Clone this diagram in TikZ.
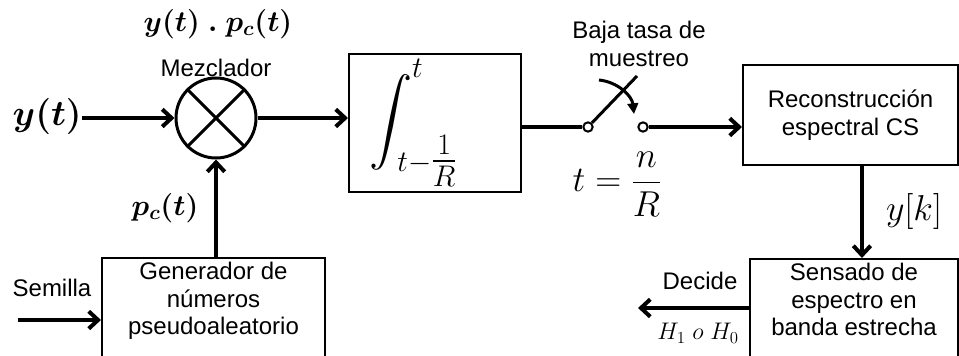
\RequirePackage{fix-cm}
\documentclass[tikz,border=0pt]{standalone}
\usepackage{fontspec}
\setmainfont{Liberation Sans}
\usepackage{amsmath,bm,graphicx}
\usetikzlibrary{arrows.meta,positioning}

\begin{document}
\begin{tikzpicture}[
  x=0.75pt,y=-0.75pt,
  box/.style={draw,line width=1.5pt,align=center,
    font=\fontsize{18}{20.5}\selectfont},
  lbl/.style={inner sep=0pt,align=center,font=\fontsize{18}{20.5}\selectfont},
  mathlbl/.style={inner sep=0pt,font=\fontsize{#1}{#1}\selectfont},
  mixer/.style={circle,draw,line width=2.25pt,minimum size=60pt,inner sep=0pt},
  term/.style={circle,draw,line width=1.5pt,fill=white,inner sep=0pt,minimum size=7pt},
  wire/.style={line width=3pt},
  arrow/.style={-{Straight Barb[length=7pt,width=13pt]},line width=3pt}]
  \clip (0,0) rectangle (959,356);
  % mixer
  \node[mixer] (mix) at (216,118) {};
  \draw[line width=2.25pt] (mix.north west) -- (mix.south east)
    (mix.north east) -- (mix.south west);
  \node[lbl] (mezlbl) at (216,68) {Mezclador};
  \node[mathlbl=22] (prodlbl) at (218,24) {$\bm{y(t)\;.\;p_c(t)}$};
  \node[mathlbl=27,anchor=east] (yin) at (82,117) {$\bm{y(t)}$};
  % integrator
  \node[box,minimum width=129pt,minimum height=103.5pt,text width=99pt,
    inner xsep=15pt,align=left,font=\fontsize{32}{38}\selectfont]
    (integ) at (435,123)
    {$\mathop{\raisebox{-4pt}{\scalebox{1.3}{$\displaystyle\int$}}}\nolimits_{\kern-11pt t-\tfrac{1}{R}}^{\raisebox{6pt}{$\scriptstyle t$}}$};
  % switch
  \node[term] (swa) at (588,127) {};
  \node[term] (swb) at (643,127) {};
  \coordinate (swtip) at (637,76);
  \coordinate (arcA) at (599,80);
  \coordinate (arcB) at (634,114);
  \node[lbl] (ratelbl) at (639,44) {Baja tasa de\\muestreo};
  \node[mathlbl=27] (tnr) at (617,184) {$t=\dfrac{n}{R}$};
  % blocks
  \node[box,minimum width=161.25pt,minimum height=75pt] (recon) at (850.5,115)
    {Reconstrucción\\espectral CS};
  \node[box,anchor=north,minimum width=156pt,text depth=40pt] (sens) at (854,258)
    {Sensado de\\espectro en\\banda estrecha};
  \node[box,anchor=north,minimum width=167.25pt,text depth=40pt] (gen) at (213.5,257)
    {Generador de\\números\\pseudoaleatorio};
  % labels
  \node[lbl] (seedlbl) at (52,288) {Semilla};
  \node[mathlbl=22] (pclbl) at (165,208) {$\bm{p_c(t)}$};
  \node[mathlbl=27] (yklbl) at (914,212) {$y[k]$};
  \node[lbl] (declbl) at (700,281) {Decide};
  \node[mathlbl=18] (hyplbl) at (698,333) {$H_1\ o\ H_0$};
  \coordinate (ktop) at ([xshift=8.6pt]recon.south);
  \coordinate (decend) at (638,308);
  \coordinate (seedstart) at (18,320);
  % connections
  \draw[arrow] (yin.east |- mix) -- (mix);
  \draw[arrow] (mix) -- (mix -| integ.west);
  \draw[wire] (integ.east |- swa) -- (swa);
  \draw[line width=2.25pt] (swa) -- (swtip);
  \draw[-{Triangle[length=8pt,width=8pt]},line width=2.25pt]
    (arcA) .. controls (618,82) and (632,96) .. (arcB);
  \draw[arrow] (swb) -- (swb -| recon.west);
  \draw[arrow] (ktop) -- (ktop |- sens.north);
  \draw[arrow] (decend -| sens.west) -- (decend);
  \draw[arrow] (gen.north -| mix) -- (mix);
  \draw[arrow] (seedstart) -- (seedstart -| gen.west);
\end{tikzpicture}
\end{document}
